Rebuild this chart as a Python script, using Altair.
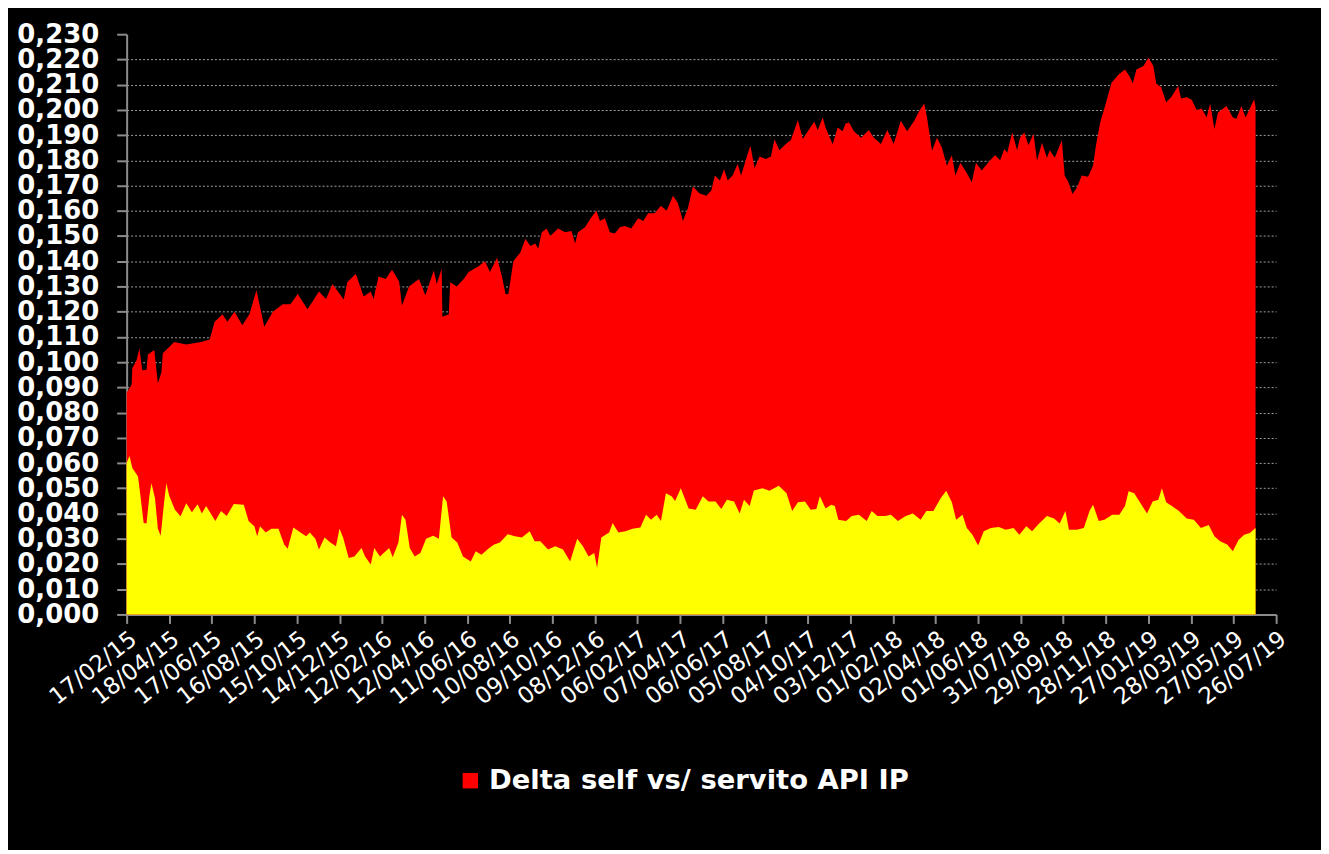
import altair as alt
import pandas as pd

# ---- data (days since 17/02/15, value) ----
START = "2015-02-17"
SERIES_NAME = "Delta self vs/ servito API IP"

red_day = [0, 7, 8, 14, 18, 22, 28, 30, 39, 44, 49, 51, 60, 67, 84, 105, 117, 124, 128, 135,
           142, 152, 163, 173, 183, 194, 206, 220, 231, 241, 255, 271, 281, 290, 306, 311, 323, 334, 344, 348,
           355, 365, 374, 384, 388, 398, 412, 421, 433, 437, 444, 445, 454, 456, 465, 475, 482, 496, 505, 512,
           522, 529, 534, 538, 545, 555, 562, 569, 576, 580, 585, 592, 597, 608, 618, 627, 632, 636, 646, 655,
           662, 667, 674, 681, 688, 695, 702, 711, 721, 728, 735, 744, 753, 761, 770, 777, 784, 791, 798, 807,
           817, 824, 829, 836, 842, 847, 854, 861, 866, 873, 879, 885, 892, 901, 908, 913, 920, 929, 936, 946,
           953, 960, 969, 974, 981, 985, 995, 1002, 1009, 1013, 1018, 1025, 1035, 1046, 1053, 1063, 1072, 1081, 1091, 1100,
           1110, 1117, 1124, 1128, 1135, 1142, 1149, 1156, 1163, 1168, 1175, 1184, 1191, 1197, 1205, 1217, 1224, 1231, 1237, 1241,
           1248, 1255, 1259, 1265, 1271, 1278, 1283, 1290, 1297, 1301, 1308, 1318, 1322, 1327, 1333, 1339, 1346, 1355, 1362, 1366,
           1372, 1379, 1388, 1398, 1407, 1414, 1418, 1423, 1433, 1440, 1447, 1451, 1458, 1465, 1472, 1482, 1486, 1494, 1501, 1508,
           1515, 1522, 1527, 1533, 1538, 1550, 1559, 1564, 1571, 1577, 1582, 1589, 1591]
red_val = [0.088, 0.091, 0.0976, 0.1008, 0.1054, 0.0968, 0.097, 0.103, 0.1048, 0.0916, 0.096, 0.1035, 0.106, 0.108, 0.107, 0.108, 0.109, 0.116, 0.117, 0.119,
           0.116, 0.120, 0.1146, 0.119, 0.1285, 0.114, 0.120, 0.123, 0.123, 0.127, 0.121, 0.128, 0.125, 0.131, 0.1248, 0.1317, 0.135, 0.126, 0.128, 0.125,
           0.134, 0.133, 0.1366, 0.132, 0.1225, 0.130, 0.133, 0.1265, 0.1364, 0.131, 0.137, 0.118, 0.119, 0.1317, 0.130, 0.133, 0.1357, 0.138, 0.140, 0.1357,
           0.1414, 0.134, 0.1269, 0.127, 0.140, 0.1436, 0.1489, 0.146, 0.147, 0.145, 0.1515, 0.153, 0.150, 0.153, 0.1515, 0.152, 0.147, 0.1515, 0.1535, 0.1574,
           0.160, 0.156, 0.157, 0.1515, 0.151, 0.1535, 0.154, 0.153, 0.157, 0.156, 0.159, 0.159, 0.162, 0.160, 0.166, 0.163, 0.156, 0.161, 0.1696, 0.167,
           0.166, 0.168, 0.174, 0.172, 0.1765, 0.172, 0.174, 0.1785, 0.174, 0.1805, 0.1858, 0.177, 0.1815, 0.1805, 0.1815, 0.1884, 0.184, 0.1865, 0.188, 0.196,
           0.1885, 0.1915, 0.1953, 0.192, 0.197, 0.193, 0.1864, 0.193, 0.1915, 0.1945, 0.195, 0.1915, 0.189, 0.192, 0.189, 0.1865, 0.192, 0.1865, 0.1957, 0.1915,
           0.1957, 0.1996, 0.2025, 0.197, 0.1838, 0.189, 0.185, 0.1779, 0.182, 0.174, 0.179, 0.175, 0.1713, 0.179, 0.176, 0.180, 0.182, 0.180, 0.1845, 0.183,
           0.191, 0.184, 0.189, 0.191, 0.186, 0.1905, 0.1798, 0.187, 0.181, 0.184, 0.181, 0.188, 0.174, 0.1715, 0.1667, 0.169, 0.174, 0.1735, 0.178, 0.1858,
           0.195, 0.2016, 0.2108, 0.214, 0.216, 0.213, 0.2105, 0.216, 0.2174, 0.2207, 0.2174, 0.2105, 0.209, 0.203, 0.205, 0.2095, 0.2045, 0.205, 0.204, 0.200,
           0.2005, 0.197, 0.2025, 0.1924, 0.199, 0.2015, 0.197, 0.1965, 0.2015, 0.197, 0.200, 0.2042, 0.201]

yel_day = [0, 4, 8, 16, 19, 24, 28, 32, 35, 40, 44, 48, 53, 56, 60, 68, 76, 84, 92, 100,
           106, 112, 125, 133, 141, 151, 165, 172, 180, 184, 188, 196, 204, 214, 222, 227, 235, 245, 253, 258,
           266, 271, 279, 287, 295, 300, 305, 313, 321, 331, 336, 344, 349, 357, 365, 370, 375, 383, 388, 393,
           399, 406, 414, 422, 432, 440, 446, 451, 458, 466, 474, 485, 492, 500, 511, 518, 526, 537, 547, 557,
           568, 575, 583, 594, 604, 615, 625, 635, 643, 651, 659, 663, 669, 680, 685, 693, 703, 713, 724, 732,
           739, 747, 753, 760, 768, 773, 781, 792, 802, 812, 820, 830, 838, 846, 856, 864, 870, 878, 884, 896,
           906, 919, 930, 938, 946, 956, 964, 972, 977, 985, 993, 998, 1003, 1014, 1022, 1032, 1043, 1050, 1058, 1069,
           1077, 1087, 1098, 1108, 1119, 1127, 1137, 1147, 1155, 1163, 1169, 1178, 1184, 1192, 1200, 1208, 1218, 1229, 1239, 1250,
           1258, 1268, 1276, 1286, 1297, 1307, 1315, 1323, 1328, 1339, 1349, 1357, 1362, 1370, 1378, 1389, 1399, 1407, 1412, 1420,
           1428, 1438, 1446, 1454, 1459, 1465, 1473, 1483, 1494, 1504, 1514, 1525, 1533, 1541, 1551, 1559, 1567, 1575, 1583, 1591]
yel_val = [0.060, 0.0628, 0.058, 0.0547, 0.048, 0.0362, 0.036, 0.0468, 0.052, 0.046, 0.034, 0.0312, 0.045, 0.052, 0.047, 0.0415, 0.0389, 0.0441, 0.0405, 0.0437,
           0.040, 0.043, 0.037, 0.041, 0.039, 0.0438, 0.0435, 0.0369, 0.035, 0.031, 0.035, 0.0325, 0.034, 0.034, 0.0277, 0.026, 0.0345, 0.0325, 0.031, 0.0325,
           0.030, 0.0257, 0.0305, 0.0285, 0.027, 0.034, 0.0305, 0.0224, 0.023, 0.0263, 0.023, 0.0198, 0.0263, 0.023, 0.025, 0.0263, 0.0227, 0.0285, 0.0395, 0.0375,
           0.0263, 0.023, 0.0244, 0.030, 0.0312, 0.030, 0.0468, 0.0448, 0.0305, 0.0285, 0.023, 0.021, 0.025, 0.0237, 0.0263, 0.0277, 0.0285, 0.0318, 0.031, 0.0305,
           0.033, 0.029, 0.029, 0.0257, 0.027, 0.0257, 0.021, 0.030, 0.027, 0.023, 0.0244, 0.0185, 0.0305, 0.0325, 0.0362, 0.0325, 0.033, 0.034, 0.0345, 0.0395,
           0.0375, 0.0395, 0.037, 0.048, 0.0468, 0.045, 0.050, 0.042, 0.0415, 0.0468, 0.0448, 0.0448, 0.0418, 0.0455, 0.0448, 0.040, 0.0455, 0.043, 0.0491, 0.050,
           0.049, 0.051, 0.048, 0.041, 0.0445, 0.0448, 0.0415, 0.0418, 0.0468, 0.042, 0.0435, 0.043, 0.0375, 0.037, 0.039, 0.0395, 0.037, 0.041, 0.039, 0.039,
           0.0395, 0.037, 0.039, 0.040, 0.0375, 0.041, 0.041, 0.046, 0.049, 0.0445, 0.0375, 0.0395, 0.0343, 0.0316, 0.0273, 0.033, 0.0343, 0.0347, 0.0336, 0.0343,
           0.0316, 0.035, 0.033, 0.036, 0.039, 0.038, 0.036, 0.041, 0.0336, 0.0336, 0.0343, 0.041, 0.0435, 0.037, 0.0375, 0.0395, 0.0395, 0.043, 0.0488, 0.048,
           0.0445, 0.040, 0.0448, 0.0455, 0.050, 0.0445, 0.043, 0.041, 0.038, 0.0375, 0.0343, 0.0355, 0.031, 0.029, 0.0277, 0.025, 0.0295, 0.0316, 0.0323, 0.0343]

x_tick_labels = ["17/02/15", "18/04/15", "17/06/15", "16/08/15", "15/10/15", "14/12/15", "12/02/16",
                 "12/04/16", "11/06/16", "10/08/16", "09/10/16", "08/12/16", "06/02/17", "07/04/17",
                 "06/06/17", "05/08/17", "04/10/17", "03/12/17", "01/02/18", "02/04/18", "01/06/18",
                 "31/07/18", "29/09/18", "28/11/18", "27/01/19", "28/03/19", "27/05/19", "26/07/19"]
y_ticks = [0.00, 0.01, 0.02, 0.03, 0.04, 0.05, 0.06, 0.07, 0.08, 0.09, 0.10, 0.11,
           0.12, 0.13, 0.14, 0.15, 0.16, 0.17, 0.18, 0.19, 0.20, 0.21, 0.22, 0.23]

# ---- build tables ----
start = pd.Timestamp(START)
red_df = pd.DataFrame({
    "date": [(start + pd.Timedelta(days=d)).strftime("%Y-%m-%d") for d in red_day],
    "v": red_val,
    "serie": SERIES_NAME,
})
yel_df = pd.DataFrame({
    "date": [(start + pd.Timedelta(days=d)).strftime("%Y-%m-%d") for d in yel_day],
    "v": yel_val,
})

tick_ms = [int(pd.to_datetime(t, format="%d/%m/%y").value // 10**6) for t in x_tick_labels]

FONT = "DejaVu Sans"
GRAY = "#8c8c8c"

x_enc = alt.X(
    "date:T",
    title=None,
    scale=alt.Scale(type="utc", domain=[tick_ms[0], tick_ms[-1]]),
    axis=alt.Axis(
        values=tick_ms,
        labelExpr="utcFormat(datum.value, '%d/%m/%y')",
        labelAngle=-38, labelFontSize=23, labelFont=FONT, labelColor="white",
        labelPadding=4, labelOverlap=False, labelFlush=False,
        tickSize=9, tickColor=GRAY, tickWidth=2,
        domainColor=GRAY, domainWidth=2, grid=False,
    ),
)
y_enc = alt.Y(
    "v:Q",
    title=None,
    scale=alt.Scale(domain=[0, 0.23], nice=False, zero=True),
    axis=alt.Axis(
        values=y_ticks,
        labelExpr="replace(format(datum.value, '.3f'), '.', ',')",
        labelFontSize=26, labelFont=FONT, labelFontWeight="bold", labelColor="white",
        labelPadding=18, labelFlush=False, labelOverlap=False,
        tickSize=10, tickColor=GRAY, tickWidth=2,
        domainColor=GRAY, domainWidth=2,
        grid=True, gridColor="#a0a0a0", gridDash=[2, 2], gridWidth=1,
        gridOpacity={"condition": {"test": "datum.value >= 0.229", "value": 0}, "value": 1},
    ),
)

red = alt.Chart(red_df).mark_area(opacity=1).encode(
    x=x_enc,
    y=y_enc,
    color=alt.Color(
        "serie:N",
        scale=alt.Scale(domain=[SERIES_NAME], range=["#FF0000"]),
        legend=alt.Legend(
            orient="none", legendX=331, legendY=735, title=None,
            symbolType="square", symbolSize=240, symbolStrokeWidth=0,
            labelFontSize=27.5, labelFont=FONT, labelFontWeight="bold", labelColor="white",
            labelOffset=5, labelLimit=0, padding=0,
        ),
    ),
)

yellow = alt.Chart(yel_df).mark_area(color="#FFFF00", opacity=1).encode(
    x=x_enc,
    y=y_enc,
)

chart = alt.layer(red, yellow).properties(
    width=1153,
    height=582,
    padding={"left": 119, "top": 25, "right": 45, "bottom": 235},
    autosize=alt.AutoSizeParams(type="none"),
    background="black",
).configure_view(fill="black", strokeWidth=0)

chart.save("out.html", embed_options={"renderer": "svg", "actions": False})
